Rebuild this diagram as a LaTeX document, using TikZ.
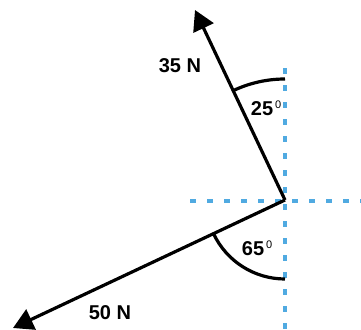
\documentclass[tikz,border=0pt]{standalone}
\usepackage{fontspec}
\setmainfont{Liberation Sans}
\usetikzlibrary{arrows.meta}
\begin{document}
\begin{tikzpicture}[x=1pt,y=-1pt,
  guide/.style={draw={rgb,255:red,80;green,170;blue,225},line width=3.5pt,dash pattern=on 6pt off 11pt},
  force/.style={draw=black,line width=3.2pt,-{Triangle[length=20pt,width=22pt]}},
  anglearc/.style={draw=black,line width=3.2pt},
  lbl/.style={font=\fontsize{20}{22}\selectfont\bfseries,inner sep=0pt},
  deg/.style={font=\fontsize{11}{12}\selectfont,inner sep=0pt}]
\useasboundingbox (0,0) rectangle (361,329);
\coordinate (O) at (285,200);
\coordinate (htop) at (190,201);
\coordinate (hend) at (361,201);
\coordinate (vtop) at (285,68);
\coordinate (vend) at (285,329);
\draw[guide] (htop) -- (hend);
\draw[guide] (vtop) -- (vend);
\coordinate (F1) at (195,10);
\coordinate (F2) at (13,328);
\draw[force] (O) -- (F1);
\draw[force] (O) -- (F2);
\draw[anglearc] (O) ++(-115:121) arc[start angle=-115,end angle=-90,radius=121];
\draw[anglearc] (O) ++(155:79) arc[start angle=155,end angle=90,radius=79];
\node[lbl] (l35) at (180,66) {35 N};
\node[lbl] (l50) at (110,313) {50 N};
\node[lbl] (a25) at (262,109) {25};
\node[deg,anchor=north west] at ([xshift=1.5pt,yshift=1pt]a25.north east) {0};
\node[lbl] (a65) at (253,249) {65};
\node[deg,anchor=north west] at ([xshift=1.5pt,yshift=1pt]a65.north east) {0};
\end{tikzpicture}
\end{document}
